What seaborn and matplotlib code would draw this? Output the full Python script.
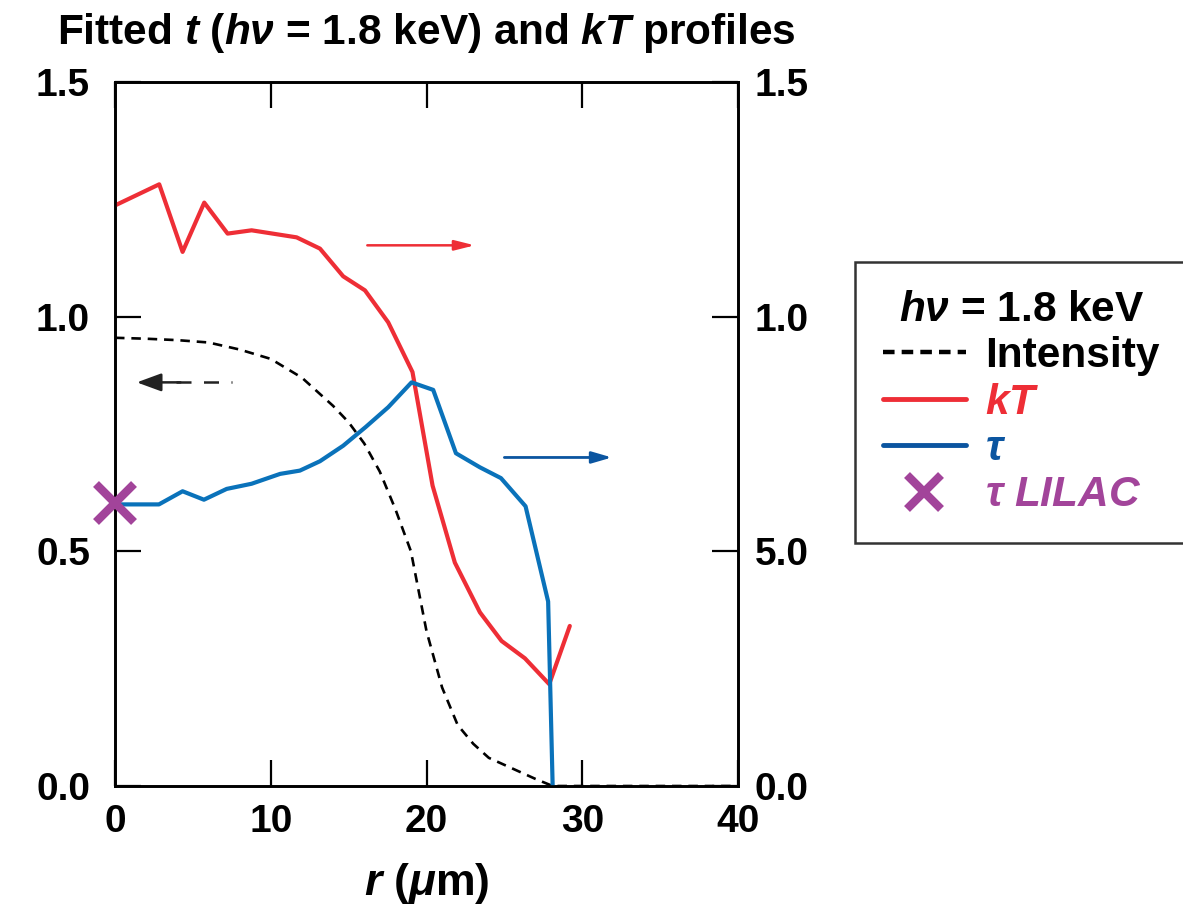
import matplotlib
matplotlib.use("Agg")
import matplotlib.pyplot as plt
import seaborn as sns
import pandas as pd
from matplotlib.lines import Line2D
from matplotlib import font_manager

# ---------------- data ----------------
r_intensity = [0, 2, 4, 6, 8, 10, 12, 13, 14, 15, 16, 17, 18, 19, 20, 21, 22, 23, 24, 25, 26, 27, 28.1, 30, 35, 40]
intensity = [0.955, 0.953, 0.950, 0.945, 0.930, 0.910, 0.870, 0.840, 0.810, 0.775, 0.730, 0.670, 0.590, 0.500,
             0.330, 0.210, 0.130, 0.090, 0.060, 0.045, 0.030, 0.015, 0.0, 0.0, 0.0, 0.0]

r_kt = [0, 2.84, 4.34, 5.73, 7.23, 8.77, 11.66, 13.16, 14.65, 16.05, 17.54, 19.1, 20.39, 21.82, 23.43, 24.82,
        26.32, 27.88, 29.2]
kt = [1.237, 1.282, 1.138, 1.243, 1.177, 1.184, 1.169, 1.145, 1.086, 1.056, 0.988, 0.882, 0.640, 0.476, 0.370,
      0.309, 0.272, 0.217, 0.341]

r_tau = [0, 2.82, 4.34, 5.71, 7.17, 8.77, 10.6, 11.87, 13.16, 14.65, 16.1, 17.54, 19.04, 20.43, 21.89, 23.43,
         24.78, 26.36, 27.81, 28.1]
tau = [0.600, 0.600, 0.628, 0.610, 0.633, 0.644, 0.665, 0.672, 0.692, 0.725, 0.765, 0.807, 0.860, 0.844, 0.709,
       0.679, 0.656, 0.596, 0.393, 0.0]

r_lilac = [0.0]
tau_lilac = [0.604]

x_ticks = [0, 10, 20, 30, 40]
y_ticks = [0.0, 0.5, 1.0, 1.5]
left_labels = ["0.0", "0.5", "1.0", "1.5"]
right_labels = ["0.0", "5.0", "1.0", "1.5"]

RED = "#EE2E36"
BLUE = "#0A72BA"
DBLUE = "#0B55A0"
PURPLE = "#A2449A"

# ---------------- style ----------------
sns.set_style("ticks")
avail = {f.name for f in font_manager.fontManager.ttflist}
narrow = "Liberation Sans Narrow" if "Liberation Sans Narrow" in avail else "Liberation Sans"
plt.rcParams["font.family"] = ["Liberation Sans", "DejaVu Sans"]
plt.rcParams["font.weight"] = "bold"
for k in ("text.color", "axes.labelcolor", "xtick.color", "ytick.color", "axes.edgecolor"):
    plt.rcParams[k] = "black"
plt.rcParams["mathtext.fontset"] = "custom"
plt.rcParams["mathtext.rm"] = "Liberation Sans:bold"
plt.rcParams["mathtext.bf"] = "Liberation Sans:bold"
plt.rcParams["mathtext.it"] = "Liberation Sans:italic:bold"

fig = plt.figure(figsize=(11.83, 9.10), dpi=100)
L, R, B, T = 115 / 1183, 738 / 1183, 1 - 786 / 910, 1 - 82 / 910
ax = fig.add_axes([L, B, R - L, T - B])
ax2 = ax.twinx()

df_i = pd.DataFrame({"r": r_intensity, "v": intensity})
df_k = pd.DataFrame({"r": r_kt, "v": kt})
df_t = pd.DataFrame({"r": r_tau, "v": tau})

sns.lineplot(data=df_i, x="r", y="v", ax=ax, color="black", lw=1.9, estimator=None, sort=False)
ax.lines[-1].set_linestyle((0, (3.6, 2.6)))
sns.lineplot(data=df_k, x="r", y="v", ax=ax2, color=RED, lw=3.0, estimator=None, sort=False)
sns.lineplot(data=df_t, x="r", y="v", ax=ax2, color=BLUE, lw=3.0, estimator=None, sort=False)
ax2.plot(r_lilac, tau_lilac, marker="x", ms=27, mew=6, color=PURPLE, ls="none", clip_on=False, zorder=10)

for a in (ax, ax2):
    a.set_xlim(0, 40)
    a.set_ylim(0, 1.5)
    a.set_xlabel("")
    a.set_ylabel("")
    for s in a.spines.values():
        s.set_linewidth(1.9)
        s.set_color("black")
        s.set_visible(True)

ax.set_xticks(x_ticks)
ax.set_xticklabels([str(v) for v in x_ticks])
ax.set_yticks(y_ticks)
ax.set_yticklabels(left_labels)
ax2.set_yticks(y_ticks)
ax2.set_yticklabels(right_labels)
ax.tick_params(axis="x", direction="in", length=19, width=1.6, top=True, bottom=True, labelsize=28, pad=13,
               colors="black")
ax.tick_params(axis="y", direction="in", length=19, width=1.6, left=True, right=False, labelsize=28, pad=18,
               colors="black")
ax2.tick_params(axis="y", direction="in", length=19, width=1.6, right=True, labelsize=28, pad=12, colors="black")
for lab in ax.get_xticklabels() + ax.get_yticklabels() + ax2.get_yticklabels():
    lab.set_fontweight("bold")

# direction arrows
ax2.annotate("", xy=(23.1, 1.152), xytext=(16.2, 1.152),
             arrowprops=dict(arrowstyle="-|>,head_length=1.2,head_width=0.3", color=RED, lw=1.8, shrinkA=0, shrinkB=0))
ax2.annotate("", xy=(31.9, 0.700), xytext=(25.0, 0.700),
             arrowprops=dict(arrowstyle="-|>,head_length=1.2,head_width=0.35", color=DBLUE, lw=2.0, shrinkA=0, shrinkB=0))
ax.plot([3.9, 7.5], [0.86, 0.86], color="#222222", lw=1.8, ls=(0, (6, 5)))
ax.annotate("", xy=(1.4, 0.86), xytext=(4.2, 0.86),
            arrowprops=dict(arrowstyle="-|>,head_length=1.5,head_width=0.55", color="#222222", lw=1.8, shrinkA=0, shrinkB=0))

# title and x label
cx = (L + R) / 2
fig.text(cx, 1 - 33 / 910, r"Fitted $t$ ($h\nu$ = 1.8 keV) and $kT$ profiles", ha="center", va="center",
         fontsize=30.5, fontweight="bold", family=[narrow, "DejaVu Sans"])
fig.text(cx, 1 - 884 / 910, r"$r$ ($\mu$m)", ha="center", va="center", fontsize=32, fontweight="bold")

# legend
handles = [
    Line2D([], [], color="black", lw=3.2, ls=(0, (2.6, 1.6))),
    Line2D([], [], color=RED, lw=3.5),
    Line2D([], [], color=DBLUE, lw=3.5),
    Line2D([], [], color=PURPLE, marker="x", ms=24, mew=6, ls="none"),
]
labels = ["Intensity", r"$kT$", r"$\tau$", r"$\tau$ $LILAC$"]
leg = fig.legend(handles, labels, title=r"$h\nu$ = 1.8 keV", loc="upper left",
                 bbox_to_anchor=(855 / 1183, 1 - 262 / 910), borderaxespad=0, frameon=True, fancybox=False,
                 prop=dict(size=30.5, weight="bold"), title_fontproperties=dict(size=30.5, weight="bold"),
                 handlelength=1.95, handletextpad=0.47, borderpad=0.66, labelspacing=0.15,
                 labelcolor=["black", RED, DBLUE, PURPLE])
leg.get_frame().set_edgecolor("black")
leg.get_frame().set_linewidth(1.8)

fig.savefig("out.png", dpi=100)
